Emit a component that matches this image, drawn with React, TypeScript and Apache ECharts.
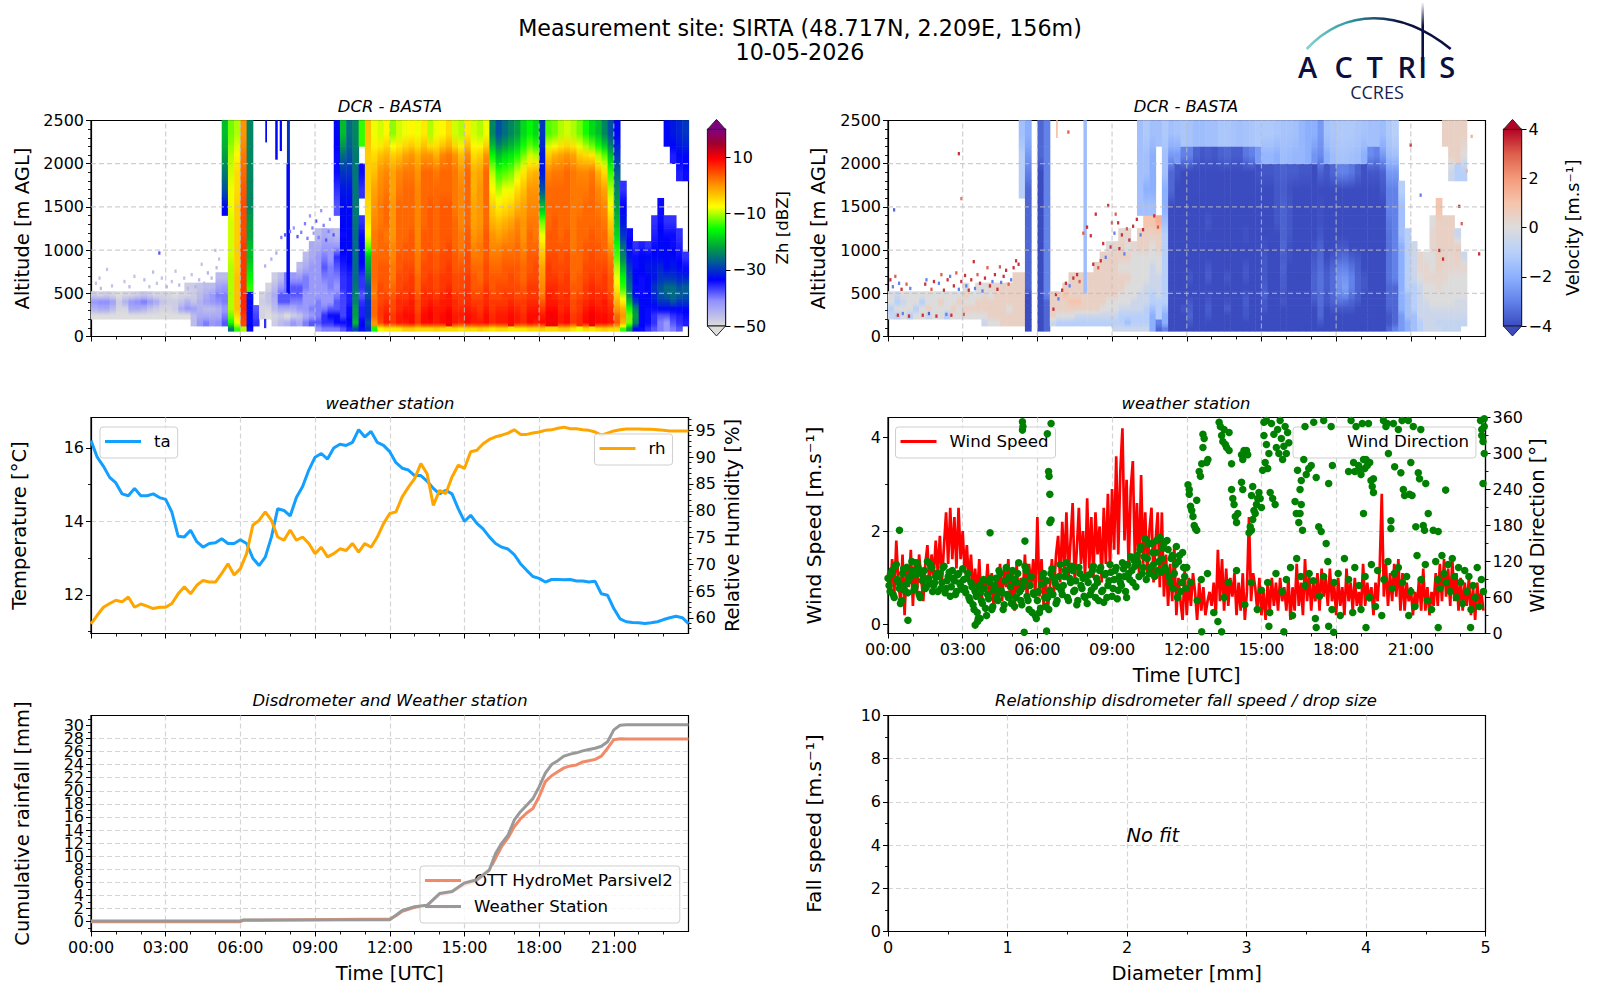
import React, { useEffect, useRef } from "react";
import * as echarts from "echarts";

const _ = null;
const FONT = "DejaVu Sans";
const NAVY = "#0b1040";

// ---- shared axes
const hourTicks = [0, 3, 6, 9, 12, 15, 18, 21];
const altTicks = [0, 500, 1000, 1500, 2000];
const taTicks = [12, 14, 16];
const rhTicks = [60, 65, 70, 75, 80, 85, 90, 95];
const wsTicks = [0, 2, 4];
const rainTicks = [0, 2, 4, 6, 8, 10, 12, 14, 16, 18, 20, 22, 24, 26, 28, 30];
const rainLabelValues = [-1.5, 0, 2, 4, 6, 8, 10, 12, 14, 16, 18, 20, 22, 24, 26, 28, 30, 31.5];
const zhBarTicks = [-50, -30, -10, 10];
const velBarTicks = [-4, -2, 0, 2, 4];

// ---- radar range gates (m) and column width (h)
const altEdges = [60, 120, 200, 280, 360, 440, 520, 620, 740, 860, 980, 1100, 1250, 1400, 1600, 1800, 2000, 2200, 2500];
const colHours = 0.25;

// ---- colour scales [value, colour]
const zhStops: [number, string][] = [[-50, "#dddddd"], [-41, "#9090ff"], [-33.5, "#0000ff"], [-27, "#006090"], [-22, "#00a040"], [-15.5, "#00ff00"], [-7.5, "#ffff00"], [1.5, "#ff8000"], [9.5, "#ff0000"], [15, "#a00030"], [20, "#800080"]];
const velStops: [number, string][] = [[-4, "#3b4cc0"], [-3, "#6282ea"], [-2, "#8db0fe"], [-1, "#b8d0f9"], [0, "#dddcdc"], [1, "#f5c4ac"], [2, "#f49a7b"], [3, "#dd5f4b"], [4, "#b40426"]];

// ---- Zh (dBZ), one list per 15 min, bottom gate first
const zhColumns: (number | null)[][] = [
[_,_,-50,-45,-42,-48],[_,_,-50,-44,-41,-49],[_,_,-50,-44,-41,-48],[_,_,-50,-46,-43,-49],
[_,_,-50,-49,-48,-50],[_,_,-50,-49,-45,-49],[_,_,-50,-44,-42,-49],[_,_,-50,-44,-41,-48],
[_,_,-50,-45,-40,-47],[_,_,-50,-47,-42,-48],[_,_,-50,-48,-44,-49],[_,_,-50,-49,-47,-49],
[_,_,-50,-49,-48,-49],[_,_,-50,-48,-48,-50],[_,_,-50,-44,-47,-49],[_,_,-50,-42,-45,-49,-48],
[_,-46,-46,-43,-47,-48,-48],[_,-42,-44,-45,-45,-46,-47],[_,-40,-44,-46,-43,-44,-46],[_,-42,-44,-46,-42,-42,-46],
[_,-41,-44,-45,-41,-40,-43,-46],
[_,-38,-40,-42,-40,-40,-42,-46,_,_,_,_,_,-33,-28,-25,-22,-20],
[-25,-15,-12,-10,-10,-10,-10,-10,-10,-9,-9,-9,-9,-8,-8,-9,-10,-12],
[-14,-8,-5,-3,-3,-3,-3,-3,-4,-4,-4,-4,-4,-4,-5,-5,-7,-10],
[-10,5,6,7,7,7,6,6,6,6,6,5,5,5,4,3,2,0],
[-34,-33,-33,-33,-33,-32,-14,-16,-18,-20,-20,-22,-22,-24,-24,-24,-24,-24],
[_,-36,-37,-38],
[_,_,-49,-49,-48,-49],
[_,_,-50,-49,-47,-47,-49],[_,-48,-49,-46,-45,-44,-46,-48],[_,-46,-48,-44,-38,-38,-42,-46],
[_,-45,-50,-44,-38,-38,-40,-40],
[_,-42,-48,-44,-40,-38,-38,-42],[_,-44,-47,-42,-40,-38,-38,-42,-46],
[_,-40,-44,-42,-42,-42,-40,-40,-44,-46],[_,-38,-42,-40,-42,-42,-42,-42,-42,-44,-44],
[-42,-38,-40,-40,-40,-42,-42,-42,-42,-42,-44,-46],[-40,-36,-36,-40,-42,-42,-42,-40,-38,-40,-42,-44],
[-40,-36,-34,-38,-42,-42,-40,-40,-40,-42,-42,-45],[-40,-34,-34,-38,-38,-40,-42,-40,-38,-36,-42,-46,_,-38,-36,-34,-34,-33],
[-38,-34,-37,-37,-37,-37,-36,-36,-35,-34,-33,-34,-33,-33,-32,-30,-26,-20],
[-35,-33,-34,-34,-35,-35,-35,-35,-34,-33,-33,-33,-33,-33,-32,-30,-28,-26],
[-28,-20,-22,-22,-24,-24,-25,-26,-26,-26,-26,-26,-25,-25,-25,-25,-25,-24],
[-34,-33,-35,-35,-36,-38,-36,-36,-34,-33,-33,-34,-36,_,-36,-34,_,-14],
[-30,-28,-30,-30,-30,-28,-28,-25,-22,-20,-12,-8,-6,-5,-4,-4,-4,-3],
[-15,0,3,3,3,2,2,3,3,3,2,2,1,0,-1,-3,-5,-8],
[-8,5,6,6,5,5,5,4,4,3,3,3,2,2,1,0,-3,-9],[-6,8,8,7,6,5,4,4,4,3,3,2,3,3,2,1,-2,-7],
[-6,6,6,5,5,4,3,2,2,1,1,0,0,0,-1,-1,-4,-11],[-6,8,8,7,7,6,5,5,4,4,3,3,3,3,2,1,-3,-9],
[-4,8,9,8,7,6,6,5,5,4,4,3,3,3,3,2,-1,-8],[-4,9,9,8,8,7,6,6,5,4,4,4,3,3,3,2,0,-7],
[-5,6,6,5,5,4,3,3,2,2,1,1,1,1,1,0,-2,-8],[-5,9,9,8,7,7,6,5,5,4,4,4,3,3,3,3,0,-6],
[-5,9,10,9,8,7,6,6,5,5,4,4,4,4,3,3,0,-10],[-4,8,8,8,7,6,5,5,4,4,3,3,3,3,3,2,-2,-8],
[-5,9,9,8,8,7,6,6,5,5,4,4,4,4,3,3,1,-7],[-5,10,10,9,8,8,7,6,6,5,5,4,4,4,3,3,2,-5],
[-5,8,8,7,7,6,5,5,4,4,3,3,3,2,2,2,0,-9],[-6,7,8,7,6,6,5,5,4,3,2,2,1,1,1,0,-3,-10],
[-5,9,9,8,7,7,6,6,5,5,4,4,3,3,3,3,1,-6],[-5,8,8,7,6,5,4,4,3,2,1,0,-1,-1,-2,-2,-5,-9],
[-4,8,7,6,6,5,4,3,3,2,2,1,0,0,0,-1,-4,-10],[-5,9,9,8,7,7,6,5,5,4,4,4,3,3,3,3,0,-8],
[-6,7,7,6,6,5,4,4,3,2,1,0,-2,-4,-7,-10,-16,-24],[-5,8,8,7,6,5,5,4,3,2,1,-1,-3,-6,-10,-14,-20,-28],
[-5,8,8,7,6,6,5,4,4,3,2,0,-2,-5,-8,-13,-18,-26],[-6,9,9,8,7,6,5,5,4,3,2,1,-1,-4,-8,-12,-17,-24],
[-6,8,8,7,6,5,5,4,4,3,3,2,1,-2,-5,-9,-15,-22],[-6,7,7,6,6,5,4,3,3,2,1,0,0,-1,-3,-6,-12,-18],
[-5,9,9,8,7,6,6,5,4,4,3,3,2,1,0,-3,-9,-16],[-5,8,9,8,7,6,6,5,5,4,3,2,2,1,0,-2,-10,-18],
[-4,9,8,6,4,2,1,0,-1,-3,-5,-8,-12,-20,-28,-32,-32,-30],[-5,10,10,9,8,8,7,6,6,5,4,4,3,3,3,1,-4,-13],
[-5,10,10,9,8,7,7,6,5,5,4,4,4,3,3,2,-2,-12],[-4,8,8,7,7,6,6,5,5,4,4,3,3,3,3,2,-1,-10],
[-4,9,9,8,7,7,6,6,5,5,4,4,3,3,3,3,0,-9],[-6,6,6,5,5,4,4,3,3,3,2,2,2,2,2,2,-1,-10],
[-8,7,7,6,6,5,4,4,3,3,3,3,3,2,2,1,-4,-12],[-5,9,9,8,7,6,6,5,5,4,4,3,3,3,2,1,-5,-15],
[-6,10,10,9,8,7,7,6,5,5,4,4,3,3,3,2,-6,-18],[-5,9,9,8,7,7,6,5,5,4,4,3,3,2,1,-2,-10,-20],
[-4,9,9,8,8,7,6,6,5,4,3,3,2,1,-1,-5,-13,-24],[-5,8,8,7,6,5,4,4,3,2,0,-2,-4,-7,-10,-14,-20,-28],
[-5,4,3,0,-2,-4,-6,-8,-10,-13,-15,-18,-20,-22,-24,-27,-30,-33],
[-14,-2,0,-2,-6,-10,-14,-16,-20,-24,-26,-30,-32,-33,-36],
[-22,-12,-12,-15,-20,-24,-26,-28,-30,-32,-33,-34],
[-33,-24,-22,-24,-30,-33,-34,-33,-34,-34,-36],
[-34,-33,-33,-33,-33,-34,-34,-34,-33,-33,-35],
[-36,-34,-34,-34,-33,-33,-33,-33,-32,-33,-36],
[-38,-36,-36,-34,-32,-31,-30,-32,-32,-33,-34,-35,-36],
[-40,-40,-38,-33,-30,-28,-28,-30,-31,-33,-33,-33,-34,-34],
[-42,-42,-38,-33,-30,-27,-26,-30,-33,-33,-33,-34,-36,_,_,_,_,-33],
[-40,-38,-36,-33,-28,-26,-26,-30,-32,-33,-34,-34,-36,_,_,_,-35,-32],
[-38,-36,-35,-33,-30,-27,-28,-31,-33,-34,-35,-36,_,_,_,-35,-33,-31],
[_,-35,-34,-33,-30,-28,-27,-31,-34,-36,_,_,_,_,_,-34,-33,-30],
];
// thin echoes: [start h, end h, low m, high m, dBZ]
const zhStreaks = [[7.85,7.97,500,2000,-33],[7.87,7.97,2000,2500,-30],[7,7.05,2250,2500,-33],[7.4,7.48,2050,2500,-33],[7.58,7.65,2150,2500,-33],[6.95,7.02,100,200,-36]];
// isolated gates: [h, m, dBZ]
const zhSpeckles = [[0.15,600,-47],[0.3,660,-47],[0.35,540,-46],[0.6,760,-47],[0.8,570,-47],[1.3,620,-47],[1.5,560,-46],[1.7,680,-47],[2.1,640,-46],[2.3,560,-47],[2.45,730,-46],[2.6,600,-47],[2.8,660,-47],[3,560,-46],[3.2,620,-47],[3.35,740,-47],[3.5,580,-46],[3.7,660,-47],[3.85,540,-46],[4,700,-47],[4.15,560,-45],[4.3,640,-46],[4.4,820,-47],[4.5,600,-46],[4.65,720,-45],[4.8,660,-46],[5,780,-46],[5.1,880,-47],[2.7,950,-38],[4.95,980,-47],
[7.6,1130,-40],[7.75,1160,-38],[7.95,1200,-40],[8.1,1240,-42],[8.25,1140,-38],[8.4,1190,-40],[8.55,1290,-40],[8.75,1380,-42],[8.85,1240,-40],[9,1320,-38],[9.1,1130,-40],[9.2,1440,-42],[9.3,1270,-40],[9.4,1100,-38],[9.5,1200,-40],[8.65,1120,-40],[9.55,1340,-42],[9.7,1160,-38],[7.4,950,-44],[7.2,880,-45],[6.95,800,-45],[8.9,1180,-42]];

// ---- Doppler velocity (m/s), same layout
const velColumns: (number | null)[][] = [
[_,_,-0.5,-1,0,0],[_,_,-1,0,-1,-0.5],[_,_,0,0,-0.5,0],[_,_,-1,0,0,0],
[_,_,0,-1,0,0],[_,_,0,0,-1,0],[_,_,-0.5,0.5,0,0],[_,_,0,0,0,0],
[_,_,0,0,0.5,0],[_,_,-1,0,0,0],[_,_,0,0.5,0,0],[_,_,0,0,0.5,0],
[_,_,0,0.5,0,0.5,0],[_,_,0,0.5,0,0],[_,_,0,0.5,0.5,0,0],[_,-0.5,0,0.5,0.5,0.3,0],
[_,0,0.5,0.5,0.5,0,0.3],[_,0,0.5,0.5,0.5,0.5,0.3],[_,0.5,0.5,0.5,0.5,0.5,0.5],[_,0.5,0.5,0,0.5,0.5,0.5],
[_,0.5,0.5,0.5,0.5,0.5,0.5,0.5],
[_,0.5,0.5,0.5,0.5,0.5,0.5,0.5,_,_,_,_,_,_,-1,-1,-1,-1.5],
[-4,-4,-4,-4,-4,-4,-3.5,-3.5,-3.5,-3.5,-3.5,-3.5,-3.5,-3.5,-3.5,-3,-2.5,-2],
[],
[-4,-4,-4,-4,-4,-4,-4,-4,-4,-4,-4,-4,-4,-4,-4,-4,-3.5,-3.5],
[-3.5,-3.5,-3.5,-3.5,-3.5,-3,-3,-3,-3,-3,-3,-3,-3,-3,-3,-3,-3,-3],
[_,-0.5,0.5,0.5,0.5,0.5],[_,-1,0,0.5,0.5,0.5],[_,-1,0,0.5,0.5,1,0.5],[_,-1,0,0.5,1,0.5,0.5,0.5],[_,-1,-0.5,0.5,1,0.5,0.5,0.5],
[_,-1,-0.5,0.5,0.5,0.5,0.5,0.5],
[_,-1,-0.5,0.5,0.5,0.5,0.5,0.5],[_,-1,-0.5,0.5,0.5,0.5,0.5,0.5,0.5],
[_,-1,-0.5,0,0.5,0.5,0.5,0.5,0.5,0.5],[_,-1,-0.5,0,0,0.5,0.5,0.5,0.5,0.5,0],
[-0.5,-1,-0.5,0,0,0.5,0.5,0.5,0.5,0.5,0.3],[-0.5,-1,-1,-0.5,0,0,0.5,0.5,0,0.5,0.5,0.3],
[-0.5,-1.5,-1,-0.5,0,0,0,0.5,0,0.5,0,0.3],[-0.5,-1,-1,-0.5,-0.5,0,0,0,0,0,0.3],
[-0.5,-1,-1,-0.5,-0.5,-0.5,0,0,0,0,0.5,0.5,_,-1.5,-1.5,-1.5,-1.5,-1.5],
[-0.5,-1,-1,-1,-0.5,-0.5,-0.5,0,0,0,0.5,0.5,1,-1.5,-2,-1.5,-1.5,-1.2],
[-2,-2,-2,-1.5,-1,-1,-0.5,-0.5,-0.5,0,0,0.5,1,-1.5,-2,-2,-2,-1.5],
[-3.5,-3,-1,-1,-1,-0.5,-0.5,-0.5,0,0,0.5,0.5,1.5,_,_,_,_,-1.5],
[-3,-2,-2,-1.5,-1,-1,-1,-1,-1,-1,-1,-1,-1.5,-2,-2,-1.5,-1.5,-1.2],
[-4,-4,-4,-4,-4,-4,-4,-4,-4,-4,-4,-4,-4,-4,-3.5,-3.5,-2.5,-1.5],
[-4,-4,-4,-4,-4,-4,-4,-4,-4,-4,-4,-4,-4,-4,-4,-3.8,-2.5,-1.4],
[-4,-4,-4,-3.8,-4,-4,-4,-4,-4,-4,-4,-4,-4,-4,-4,-4,-3,-1.3],
[-4,-3.8,-3.6,-3.7,-3.8,-4,-4,-3.8,-4,-4,-4,-4,-4,-4,-4,-4,-3,-1.4],
[-4,-4,-4,-4,-4,-4,-4,-4,-4,-4,-4,-4,-4,-4,-4,-4,-3.6,-1.6],
[-4,-4,-4,-4,-4,-4,-4,-4,-4,-4,-4,-4,-4,-4,-4,-4,-3.8,-1.6],
[-4,-4,-3.8,-3.7,-3.8,-3.9,-4,-3.7,-3.8,-4,-4,-4,-3.8,-4,-4,-4,-3.7,-1.5],
[-4,-4,-4,-4,-4,-4,-4,-4,-4,-4,-4,-4,-4,-4,-4,-4,-3.8,-1.5],
[-4,-4,-4,-4,-4,-4,-4,-4,-4,-4,-4,-4,-4,-4,-4,-4,-3.6,-1.3],
[-4,-4,-4,-3.7,-3.9,-4,-4,-3.8,-4,-4,-4,-4,-4,-4,-4,-4,-3.5,-1.3],
[-4,-4,-4,-4,-4,-4,-4,-4,-4,-4,-4,-4,-4,-4,-4,-4,-3.7,-1.4],
[-4,-4,-4,-4,-4,-4,-4,-4,-4,-4,-4,-4,-4,-4,-4,-4,-3.7,-1.5],
[-4,-4,-3.8,-3.8,-3.7,-3.8,-4,-3.8,-3.8,-4,-4,-3.9,-4,-4,-4,-4,-3.2,-1.4],
[-4,-4,-4,-4,-4,-4,-4,-4,-4,-4,-4,-4,-4,-4,-4,-4,-3,-1.3],
[-4,-4,-4,-4,-4,-4,-4,-4,-4,-4,-4,-4,-4,-4,-4,-3.9,-2.5,-1.2],
[-4,-4,-4,-3.8,-3.8,-3.6,-3.7,-3.8,-3.8,-3.8,-3.9,-4,-4,-4,-4,-3.8,-1.8,-1.2],
[-4,-4,-4,-4,-4,-4,-4,-4,-4,-4,-4,-4,-4,-4,-4,-3.8,-1.8,-1.2],
[-4,-4,-4,-4,-4,-4,-4,-4,-4,-4,-4,-4,-3.8,-3.8,-3.8,-3.7,-2,-1.3],
[-4,-4,-4,-4,-3.8,-3.9,-3.7,-3.7,-3.6,-3.7,-3.5,-3.6,-3.6,-3.6,-3.7,-3.6,-1.6,-1.4],
[-4,-4,-4,-4,-4,-4,-4,-4,-4,-3.9,-3.9,-3.8,-3.8,-3.8,-3.9,-3.7,-1.7,-1.4],
[-4,-4,-4,-4,-4,-4,-4,-4,-4,-4,-4,-4,-4,-4,-4,-3.7,-1.8,-1.5],
[-4,-4,-4,-4,-4,-4,-4,-4,-4,-4,-4,-4,-4,-4,-4,-3.8,-1.8,-1.8],
[-4,-4,-4,-4,-4,-4,-4,-4,-4,-4,-4,-4,-4,-4,-4,-3.8,-2,-2],
[-4,-4,-4,-4,-3.8,-3.7,-3.6,-3.6,-3.7,-3.8,-3.9,-4,-4,-4,-4,-4,-2.6,-2],
[-4,-3.8,-3.5,-3.5,-3.4,-3.4,-3.3,-3.3,-3.4,-3.5,-3.6,-3.8,-3.9,-3.9,-4,-3.6,-2.8,-2.5],
[-4,-4,-4,-4,-3.8,-3.8,-3.7,-3.7,-3.8,-4,-4,-4,-4,-4,-4,-3.8,-2,-1.4],
[-4,-4,-4,-3.8,-3.6,-3.5,-3.4,-3.4,-3.5,-3.8,-4,-4,-4,-4,-4,-3.5,-1.6,-1.3],
[-4,-4,-4,-3.8,-3.3,-3,-2.7,-2.7,-3,-3.5,-3.8,-4,-4,-4,-4,-3,-1.4,-1.2],
[-4,-4,-4,-3.8,-3.4,-2.8,-2.4,-2.6,-3,-3.4,-3.8,-4,-4,-4,-4,-3,-1.4,-1.2],
[-4,-4,-4,-3.8,-3.6,-3.3,-3,-3,-3.3,-3.7,-4,-4,-4,-4,-4,-3.2,-1.5,-1.2],
[-4,-4,-4,-4,-3.8,-3.7,-3.6,-3.6,-3.7,-3.8,-4,-4,-4,-4,-4,-3.6,-1.6,-1.3],
[-4,-4,-4,-4,-4,-4,-3.8,-3.8,-4,-4,-4,-4,-4,-4,-4,-3.9,-2,-1.4],
[-4,-4,-4,-4,-4,-4,-4,-4,-4,-4,-4,-4,-4,-4,-4,-3.8,-2.8,-1.5],
[-4,-4,-4,-4,-4,-4,-4,-4,-4,-4,-4,-4,-4,-4,-4,-3.8,-3,-1.5],
[-4,-4,-4,-4,-4,-4,-4,-4,-4,-4,-4,-4,-4,-4,-3.8,-3.6,-2.5,-1.6],
[-3.5,-3.8,-3.8,-3.6,-3.5,-3.5,-3.5,-3.3,-3.3,-3.3,-3.3,-3.3,-3.2,-3,-3,-2.5,-1.6,-1.2],
[-3,-3.5,-3.5,-3.5,-3.5,-3.5,-3.5,-3,-3,-3,-3,-3,-3,-3,-3,-2.5,-1.5,-1],
[-2.5,-2.5,-2.5,-2,-2,-2,-2,-2,-2,-2,-2,-1.5,-1.5,-1.5,-1],
[-2,-2,-1.5,-1.5,-1.5,-1.5,-1,-1,-1,-1,-1,-1],
[-1.5,-1.5,-1.5,-1,-1,-1,-1,-0.5,-0.5,-0.5,-0.5],
[-1,-1,-0.5,-0.5,-0.5,-0.5,-0.5,0,0.3,0.3],
[-0.5,-0.5,-0.5,-0.5,-0.3,0,0,0.3,0.3,0],
[-0.5,-0.5,-0.5,-0.3,0,0,0,0.3,0,0,0.3,0.3,0],
[-0.5,-0.7,-0.5,-0.3,0,0,0.3,0.3,0.5,0.5,0.5,0.5,0.5,1],
[-0.7,-0.7,-0.5,-0.3,0,0,0,0.3,0.3,0.5,0.5,0.5,0.5,_,_,_,_,0.5],
[-0.7,-0.7,-0.5,-0.3,0,0,0,0,0.3,0.3,0.5,0.5,0.5,_,_,-0.5,0.5,0.5],
[-0.7,-0.7,-0.5,-0.3,-0.3,0,0,0,0.3,0.5,0.5,-0.5,_,_,_,-1,0.5,0.5],
[_,-0.7,-0.5,-0.3,-0.3,0,0,0,0.3,-0.5,_,_,_,_,_,-1,0,0.5],
];
const velStreaks = [[7.85,7.97,500,2500,-1.6],[6.75,6.8,2300,2500,1]];
const velSpeckles = [[0.05,640,3.5],[0.15,560,-3],[0.2,1450,-3.5],[0.25,680,3],[0.35,230,3.5],[0.4,600,-3],[0.5,530,3.5],[0.55,250,-3],[0.7,590,3],[0.8,220,3.5],[0.85,540,-3],
[1.35,230,3.5],[1.45,590,3.5],[1.5,640,-3],[1.6,250,-3.5],[1.7,530,3],[1.8,620,3.5],[1.9,220,3.5],[2,600,-3],[2.1,700,3],[2.2,520,3.5],[2.3,240,-3],[2.35,640,3.5],[2.45,680,-3],[2.5,230,3.5],[2.6,570,3.5],[2.7,720,3],[2.8,530,-3],[2.9,620,3.5],[3,240,3],
[3.05,690,3.5],[3.1,570,-3],[3.2,520,3.5],[3.3,640,3.5],[3.4,850,3.5],[3.45,540,-3],[3.55,700,3],[3.65,600,3.5],[3.75,510,-3],[3.85,660,3.5],[3.95,780,3],[4.05,570,3.5],[4.15,620,-3],[4.25,700,3.5],[4.35,530,3.5],[4.45,790,3],[4.5,610,-3],[4.6,680,3.5],[4.7,750,3.5],[4.8,590,3],[4.9,640,-3],[5,780,3.5],[5.1,860,3.5],[5.2,820,3.5],
[6.6,300,3.5],[6.7,470,3.5],[6.8,420,-3],[6.95,520,3.5],[7.1,600,3.5],[7.25,570,-3],[7.4,660,3.5],[7.55,700,3.5],[7.65,620,3],[7.8,1180,3],[7.95,1250,3.5],[8.1,1150,3.5],[8.2,820,3.5],[8.3,1400,3.5],[8.4,780,3],[8.5,860,3.5],[8.6,1060,3.5],[8.7,900,-3],[8.8,1500,3.5],[8.9,1020,3.5],[8.95,1300,3.5],[9.05,1180,-3],[9.1,1400,3],[9.2,1300,3.5],[9.25,1000,3.5],[9.35,1160,3.5],[9.45,940,-3],[9.55,1230,3],[9.65,1100,3.5],[9.8,1260,3.5],[9.95,1340,3.5],[10.1,1160,-3],[10.2,1220,3.5],[10.65,1380,3.5],[10.8,1250,3],
[20.95,2200,3.5],[21.35,1620,-3],[22.1,980,3.5],[22.25,880,3.5],[23,1290,3],[23.7,940,3.5],[23.2,1900,1.5],[23.4,2300,1.5],[22.9,1490,3.5],[2.8,2100,3.5],[2.9,1580,2.5],[7.2,2350,3]];

// ---- weather station, every 15 min
const lineHours = 0.25;
const taValues = [16.2,15.75,15.5,15.2,15.05,14.75,14.7,14.9,14.7,14.7,14.75,14.65,14.6,14.25,13.6,13.58,13.76,13.45,13.3,13.4,13.42,13.53,13.4,13.4,13.5,13.4,13.0,12.8,13.03,13.58,14.35,14.3,14.15,14.65,14.95,15.4,15.75,15.85,15.7,16.0,16.1,16.07,16.15,16.5,16.3,16.45,16.15,16.07,15.9,15.6,15.45,15.4,15.25,15.25,15.1,14.9,14.75,14.85,14.75,14.35,14.0,14.17,13.95,13.8,13.58,13.4,13.3,13.25,13.1,12.85,12.67,12.5,12.45,12.35,12.42,12.42,12.41,12.42,12.38,12.38,12.35,12.37,12.03,11.99,11.63,11.35,11.27,11.25,11.24,11.22,11.24,11.27,11.33,11.38,11.42,11.38,11.22];
const rhValues = [58.9,60.5,62,62.7,63.3,63,63.9,62,62.6,62.2,61.75,62,62,62.7,64.5,65.8,64.5,66.1,67,66.7,66.7,68.3,70.1,68,69.2,72,77.3,78.2,79.8,78.2,75.1,74.5,76.4,74.5,75.1,73.9,72,73.2,71.4,72,72.9,72.6,73.9,72.3,73.9,73.2,75.1,77.6,79.5,79.8,82.6,84.4,86,88.8,86.9,81,83.8,83.2,86.3,88.5,87.9,91,91.3,92.5,93.3,93.8,94.1,94.5,95.1,94.25,94.25,94.5,94.7,95,95.1,95.4,95.6,95.3,95.3,95.1,95,94.7,94.1,94.5,94.9,95.1,95.25,95.25,95.25,95.2,95.2,95.1,95,94.9,94.9,94.9,94.9];

// ---- wind, every 5 min
const windHours = 1 / 12;
const windSpeed = [
1.1,0.7,1.4,0.6,1.8,0.9,0.5,1.5,0.2,1.3,0.8,1.6, 0.4,1.4,0.7,1.5,1.0,0.5,1.3,1.7,0.8,1.5,1.0,1.8,
1.1,1.9,0.9,1.7,2.4,1.3,2.5,1.4,2.3,1.2,2.5,1.4, 2.0,1.1,1.7,0.9,1.5,0.7,1.2,0.6,1.4,0.4,1.0,0.7,
1.3,0.5,1.1,0.3,1.0,0.6,1.3,0.5,1.2,0.8,1.4,0.4, 1.1,0.3,1.3,0.6,1.0,0.7,1.5,0.5,1.3,0.8,1.4,0.6,
2.3,0.6,1.4,0.4,1.0,0.3,0.8,1.4,0.7,1.5,1.9,0.9, 2.2,1.2,2.4,1.0,1.8,2.6,0.9,1.6,2.5,1.3,2.0,1.0,
2.7,1.2,2.3,1.0,2.4,1.5,2.1,0.9,2.5,1.3,2.8,1.2, 2.9,1.6,3.6,1.5,3.3,4.2,1.8,3.1,1.2,2.9,3.5,1.4,
2.6,1.1,3.2,1.3,2.4,1.0,2.0,2.5,0.9,1.8,2.4,0.8, 2.4,0.6,1.5,0.4,1.3,0.5,1.7,0.2,1.0,0.5,0.1,1.2,
0.2,1.0,0.4,1.1,0.7,0.1,0.9,0.3,0.8,0.2,0.5,0.7, 0.4,0.9,0.2,1.6,0.5,1.4,0.3,1.2,0.4,1.0,0.6,1.1,
0.2,0.9,0.3,1.1,0.1,0.7,2.3,0.5,1.1,0.8,0.3,1.0, 0.2,0.7,0.1,0.9,0.3,1.0,0.4,0.9,0.3,1.0,0.5,0.8,
0.3,1.0,0.1,0.8,0.3,1.3,0.4,0.9,0.2,1.4,0.5,1.1, 0.3,0.9,0.5,1.1,0.3,1.2,0.6,1.0,0.4,1.2,0.5,0.9,
0.2,1.0,0.4,0.8,0.2,1.2,0.5,0.9,0.3,1.0,0.4,0.7, 0.3,1.3,0.4,0.9,0.5,0.8,0.2,0.9,0.5,1.2,2.8,0.6,
1.3,0.4,1.1,0.5,1.3,0.6,1.4,0.3,1.1,0.3,0.9,0.5, 0.8,0.2,0.7,0.4,1.0,0.3,1.2,0.3,0.8,0.2,0.7,0.4,
1.1,0.4,1.3,0.5,1.4,0.6,1.2,0.4,1.4,0.5,1.1,0.3, 1.0,0.3,0.9,0.4,1.0,0.2,0.8,0.1,0.9,0.4,0.7,0.3];
const windDir = [
92,70,105,60,115,85,50,100,72,110,88,95, 105,78,118,65,100,90,75,120,85,110,80,95,
70,100,85,112,75,95,62,105,88,70,100,80, 108,75,92,60,85,48,70,35,80,55,90,42,
65,85,40,72,92,55,100,68,48,110,60,78, 105,45,85,118,55,78,112,62,40,95,68,30,
55,35,82,100,45,60,72,108,92,50,78,115, 65,95,118,55,85,105,72,48,110,80,92,60,
50,98,72,112,60,85,105,70,52,100,80,115, 62,90,110,72,85,118,95,60,100,128,85,112,
130,95,145,110,158,125,100,150,115,135,105,160, 125,150,105,140,85,130,100,145,120,70,135,95,
110,_,85,_,_,55,_,90,_,_,100,_, _,35,_,20,_,_,60,_,85,_,_,_,
105,_,_,_,48,_,_,85,_,_,40,_, 72,_,_,85,35,_,_,100,_,_,70,_,
90,_,110,30,_,125,_,95,_,80,_,100, _,88,25,_,62,_,95,_,120,_,40,85,
_,100,30,_,125,_,90,_,35,110,_,80, 40,_,95,_,60,115,_,45,105,_,30,90,
_,120,_,75,100,_,110,_,85,_,95,30, 70,_,45,130,_,90,_,115,55,_,40,_,
120,90,75,130,100,85,115,70,125,95,60,110, 85,50,105,70,95,40,80,60,110,45,90,70];
const windDirMorning = [
80,100,65,112,90,75,55,108,82,68,96,120, 72,98,110,60,88,105,78,92,115,70,85,100,
95,75,110,68,88,102,78,92,65,98,84,74, 90,68,100,55,78,40,62,25,68,50,75,30,
58,92,45,80,60,105,72,40,88,65,95,50, 90,60,100,70,48,88,105,55,80,35,65,25,
70,42,95,60,88,40,100,65,85,55,95,72, 80,105,60,92,112,70,88,55,100,75,62,95,
85,65,105,78,92,55,110,72,98,60,88,102, 75,105,58,95,80,108,70,115,90,105,122,78,
118,140,100,128,90,150,110,135,95,155,120,102, 142,110,155,95,125,75,115,60,130,85,110,75];
const windDirOutliers = [
[0.46,172],[4.1,168],[5.5,154],[0.8,22],[3.5,14],[3.6,20],[3.7,25],[5.47,2],[6.37,4],[5.4,353],[5.4,339],[5.42,345],[6.4,333],[6.55,350],[6.45,270],[6.47,262],[6.5,232],[6.55,189],[6.5,185],
[12.05,248],[12.1,240],[12.1,232],[12.15,212],[12.2,205],[12.25,195],[12.3,180],[12.35,175],[12.4,172],[12.4,222],[12.5,270],[12.55,262],[12.6,283],[12.65,310],[12.65,332],[12.7,325],[12.8,285],[12.85,290],
[13.3,352],[13.35,345],[13.4,330],[13.45,320],[13.5,340],[13.55,315],[13.6,310],[13.7,305],[13.7,335],[13.8,283],[13.8,240],[13.85,225],[13.9,215],[13.95,195],[14,185],[14.05,200],[14.2,298],[14.25,290],[14.3,305],[14.35,300],[14.4,305],[14.45,298],[14.2,252],[14.25,240],
[14.5,168],[14.55,178],[14.6,172],[14.65,190],[14.7,205],[14.75,200],[14.8,215],[14.85,225],[14.9,235],[14.95,225],[15,210],[14.6,230],[14.65,245],
[15.05,272],[15.1,352],[15.1,330],[15.15,285],[15.2,355],[15.2,315],[15.25,275],[15.3,300],[15.35,235],[15.4,350],[15.45,225],[15.5,332],[15.55,215],[15.6,310],[15.65,340],[15.7,300],[15.75,355],[15.8,325],[15.85,290],[15.9,312],[15.95,345],[16,300],[16.05,335],[16.1,318],
[16.35,220],[16.4,200],[16.45,272],[16.5,185],[16.55,240],[16.6,255],[16.65,172],[16.7,290],[16.75,345],[16.8,265],[16.9,275],[17,280],[17.1,352],[17.2,260],[17.3,178],[17.4,170],[17.5,355],[17.6,150],[17.7,250],[17.8,345],[17.85,280],[16.55,200],[16.6,215],
[18.5,270],[18.6,355],[18.7,285],[18.75,270],[18.8,345],[18.9,280],[18.95,275],[19,265],[19.05,350],[19.1,290],[19.15,275],[19.2,290],[19.25,280],[19.3,350],[19.35,285],[19.4,255],[19.45,245],[19.5,258],[19.5,235],[19.1,200],
[19.9,355],[20,345],[20.05,350],[20.1,300],[20.2,188],[20.2,175],[20.3,350],[20.35,278],[20.5,340],[20.6,268],[20.65,355],[20.7,240],[20.75,230],[20.9,355],[20.95,232],[21,285],[21.05,230],[21.1,345],[21.2,178],[21.3,268],[21.35,258],[21.4,340],[21.5,180],[21.55,172],[21.6,250],[21.7,200],[21.9,172],[22.1,170],[22.4,239],
[23.8,355],[23.85,340],[23.9,320],[23.95,300],[23.95,345],[23.9,250],[23.85,330],[23.95,358],
[12.6,3],[13.4,3],[15.3,12],[15.9,3],[17.2,10],[17.7,12],[17.9,2],[19.2,10],[22.1,10],[23.4,10]];

// ---- cumulative rain
const rainHours = [0,6,6.1,12,12.25,12.5,13,13.5,14,14.5,15,15.5,16,16.25,16.5,16.75,17,17.25,17.5,17.75,18,18.25,18.5,18.75,19,19.25,19.5,19.75,20,20.25,20.5,20.75,21,21.25,21.5,24];
const parsivelRain = [0,0,0.2,0.4,0.9,1.6,2.2,2.5,4.1,4.5,5.6,6.2,7.8,9.7,11.5,12.8,14.5,15.7,16.6,17.3,19.1,21.4,22.3,22.9,23.5,23.8,23.95,24.4,24.6,24.8,25.3,26.5,27.8,27.95,27.9,27.9];
const stationRain = [0.1,0.1,0.25,0.3,1.0,1.7,2.3,2.5,4.3,4.6,5.9,6.4,7.9,10.4,12,13.2,15.5,16.8,17.8,18.8,20.6,22.7,24,24.6,25.3,25.6,25.8,26.1,26.3,26.5,26.8,27.5,29.3,30,30.1,30.1];

function hexToRgb(h: string) {
  return [parseInt(h.slice(1, 3), 16), parseInt(h.slice(3, 5), 16), parseInt(h.slice(5, 7), 16)];
}
function colorOf(stops: [number, string][], v: number) {
  if (v <= stops[0][0]) return stops[0][1];
  for (let i = 1; i < stops.length; i++) {
    if (v <= stops[i][0]) {
      const f = (v - stops[i - 1][0]) / (stops[i][0] - stops[i - 1][0]);
      const a = hexToRgb(stops[i - 1][1]);
      const b = hexToRgb(stops[i][1]);
      return `rgb(${a.map((c, k) => Math.round(c + (b[k] - c) * f)).join(",")})`;
    }
  }
  return stops[stops.length - 1][1];
}

function heatSeries(name: string, cols: (number | null)[][], streaks: number[][], specks: number[][], stops: [number, string][], axis: number, blend: number) {
  const data: number[][] = [];
  cols.forEach((col, c) => {
    col.forEach((v, r) => {
      if (v === null) return;
      const up = col[r + 1];
      const down = col[r - 1];
      const top = up == null || Math.abs(up - v) > blend ? v : (up + v) / 2;
      const bot = down == null || Math.abs(down - v) > blend ? v : (down + v) / 2;
      data.push([c * colHours, (c + 1) * colHours, altEdges[r], altEdges[r + 1], v, top, bot]);
    });
  });
  streaks.forEach(([t0, t1, a0, a1, v]) => data.push([t0, t1, a0, a1, v, v, v]));
  specks.forEach(([t, a, v]) => data.push([t, t + 0.07, a, a + 32, v, v, v]));
  return {
    type: "custom", name, xAxisIndex: axis, yAxisIndex: axis, data, z: 2, silent: true,
    encode: { x: [0, 1], y: [2, 3] },
    renderItem: (_p: any, api: any) => {
      const a = api.coord([api.value(0), api.value(3)]);
      const b = api.coord([api.value(1), api.value(2)]);
      const v = api.value(4), t = api.value(5), d = api.value(6);
      const fill = t === v && d === v ? colorOf(stops, v) : new echarts.graphic.LinearGradient(0, 0, 0, 1, [
        { offset: 0, color: colorOf(stops, t) }, { offset: 0.5, color: colorOf(stops, v) }, { offset: 1, color: colorOf(stops, d) },
      ]);
      return { type: "rect", shape: { x: a[0], y: a[1] - 0.3, width: b[0] - a[0] + 0.5, height: b[1] - a[1] + 0.6 }, style: { fill } };
    },
  };
}

const gridDash = "rgba(190,190,190,0.75)";
function overlayGrid(axis: number) {
  const data: number[][] = [];
  hourTicks.slice(1).forEach((h) => data.push([h, 0, h, 2500]));
  altTicks.slice(1).forEach((a) => data.push([0, a, 24, a]));
  return {
    type: "custom", xAxisIndex: axis, yAxisIndex: axis, data, z: 3, silent: true,
    encode: { x: [0, 2], y: [1, 3] },
    renderItem: (_p: any, api: any) => {
      const a = api.coord([api.value(0), api.value(1)]);
      const b = api.coord([api.value(2), api.value(3)]);
      return { type: "line", shape: { x1: a[0], y1: a[1], x2: b[0], y2: b[1] }, style: { stroke: gridDash, lineWidth: 1.2, lineDash: [5, 3] } };
    },
  };
}
function colorbarSeries(stops: [number, string][], axis: number) {
  const lo = stops[0][0], hi = stops[stops.length - 1][0];
  const tip = (hi - lo) * (10 / 197);
  return {
    type: "custom", xAxisIndex: axis, yAxisIndex: axis, data: [[0, lo, 1, hi]], z: 2, silent: true, clip: false,
    encode: { x: [0, 2], y: [1, 3] },
    renderItem: (_p: any, api: any) => {
      const a = api.coord([0, hi]);
      const b = api.coord([1, lo]);
      const mid = (a[0] + b[0]) / 2;
      const stroke = "#222";
      return {
        type: "group",
        children: [
          { type: "rect", shape: { x: a[0], y: a[1], width: b[0] - a[0], height: b[1] - a[1] }, style: { stroke, lineWidth: 1, fill: new echarts.graphic.LinearGradient(0, 0, 0, 1, stops.slice().reverse().map(([v, color]) => ({ offset: (hi - v) / (hi - lo), color }))) } },
          { type: "polygon", shape: { points: [[a[0], a[1]], [b[0], a[1]], api.coord([0.5, hi + tip]).map((p: number, i: number) => (i ? p : mid))] }, style: { fill: stops[stops.length - 1][1], stroke, lineWidth: 1 } },
          { type: "polygon", shape: { points: [[a[0], b[1]], [b[0], b[1]], api.coord([0.5, lo - tip]).map((p: number, i: number) => (i ? p : mid))] }, style: { fill: stops[0][1], stroke, lineWidth: 1 } },
        ],
      };
    },
  };
}

const tickFont = { fontFamily: FONT, fontSize: 16, color: "#000" };
const nameFont = { fontFamily: FONT, fontSize: 19.5, color: "#000" };
const dashed = { show: true, showMinLine: false, showMaxLine: false, lineStyle: { color: "#d4d4d4", type: [5, 3] as any, width: 1.2 } };
const minor = (n: number) => ({ show: true, splitNumber: n, length: 3, lineStyle: { color: "#000", width: 0.9 } });
const numFmt = (v: number) => String(v).replace("-", "\u2212");

function timeAxis(gridIndex: number, labels: boolean, split: boolean) {
  return {
    type: "value", gridIndex, min: 0, max: 24, interval: 3,
    axisLine: { show: true, onZero: false, lineStyle: { color: "#000", width: 1.2 } },
    axisTick: { show: true, length: 5, lineStyle: { color: "#000" }, customValues: hourTicks },
    minorTick: minor(3),
    axisLabel: { show: labels, ...tickFont, margin: 8, showMinLabel: true, customValues: hourTicks, formatter: (v: number) => `${String(v).padStart(2, "0")}:00` },
    splitLine: { ...dashed, show: split },
    name: labels ? "Time [UTC]" : "", nameLocation: "middle", nameGap: 32, nameTextStyle: nameFont,
  };
}
function yAxis(gridIndex: number, name: string, nameGap: number, cfg: any, minorN: number, split = true, position = "left") {
  const { ticks, labelExtra, ...rest } = cfg;
  return {
    type: "value", gridIndex, position, name, nameLocation: "middle", nameGap, nameRotate: 90, nameTextStyle: nameFont,
    axisLine: { show: true, onZero: false, lineStyle: { color: "#000", width: 1.2 } },
    axisTick: { show: true, length: 5, lineStyle: { color: "#000" }, ...(ticks ? { customValues: ticks } : {}) },
    minorTick: minor(minorN),
    axisLabel: { ...tickFont, margin: 7, showMinLabel: true, showMaxLabel: true, hideOverlap: false, formatter: numFmt, ...(ticks ? { customValues: ticks } : {}), ...(labelExtra || {}) },
    splitLine: { ...dashed, show: split },
    ...rest,
  };
}
function subtitle(text: string, x: number, y: number) {
  return { text, left: x, top: y - 9, textAlign: "center", textStyle: { fontFamily: FONT, fontSize: 16.4, fontStyle: "italic", fontWeight: "normal", color: "#000", lineHeight: 18 }, padding: 0 };
}
function legendBox(name: any, left: number, top: number, opts: any = {}) {
  return {
    data: Array.isArray(name) ? name : [name], left, top, orient: "vertical", selectedMode: false, icon: "rect", itemWidth: 36, itemHeight: 3, itemGap: 9,
    padding: [6, 7, 8, 5], borderColor: "#cfcfcf", borderWidth: 1, borderRadius: 3, backgroundColor: "rgba(255,255,255,0.8)",
    textStyle: { fontFamily: FONT, fontSize: 16.6, color: "#000", padding: [0, 0, 0, 8] }, ...opts,
  };
}
const bg = (x: number, y: number, h = 216, w = 597.5) => ({ left: x, top: y, width: w, height: h, show: true, borderColor: "#000", borderWidth: 1.2 });
const line = (name: string, xs: number[] | null, ys: number[], step: number, axis: number, y: number, color: string, width: number, z = 3) => ({
  type: "line", name, xAxisIndex: axis, yAxisIndex: y, showSymbol: false, symbol: "none", silent: true, z,
  data: ys.map((v, i) => [xs ? xs[i] : i * step, v]), lineStyle: { color, width }, itemStyle: { color },
});

const letters = [["A", 1307.5], ["C", 1343.7], ["T", 1374.7], ["R", 1406.7], ["I", 1422.7], ["S", 1447.3]] as [string, number][];

export default function App() {
  const ref = useRef<HTMLDivElement>(null);
  useEffect(() => {
    document.body.style.margin = "0";
    const chart = echarts.init(ref.current!, undefined, { renderer: "svg" });
    chart.setOption({
      animation: false,
      backgroundColor: "#fff",
      title: [
        { text: "Measurement site: SIRTA (48.717N, 2.209E, 156m)\n10-05-2026", left: 800, top: 16, textAlign: "center", padding: 0, textStyle: { fontFamily: FONT, fontSize: 22.2, fontWeight: "normal", color: "#000", lineHeight: 24 } },
        subtitle("DCR - BASTA", 390, 106), subtitle("DCR - BASTA", 1186, 106),
        subtitle("weather station", 390, 403), subtitle("weather station", 1186, 403),
        subtitle("Disdrometer and Weather station", 390, 700), subtitle("Relationship disdrometer fall speed / drop size", 1186, 700),
      ],
      grid: [
        bg(91, 120.5), bg(707.5, 129.4, 196.6, 18), bg(888, 120.5), bg(1503.5, 129.4, 196.6, 18),
        bg(91, 417.5), bg(888, 417.5), bg(91, 715.5), bg(888, 715.5),
      ],
      xAxis: [
        timeAxis(0, false, false),
        { type: "value", gridIndex: 1, min: 0, max: 1, show: false },
        timeAxis(2, false, false),
        { type: "value", gridIndex: 3, min: 0, max: 1, show: false },
        timeAxis(4, false, true),
        timeAxis(5, true, true),
        timeAxis(6, true, true),
        {
          type: "value", gridIndex: 7, min: 0, max: 5, interval: 1, name: "Diameter [mm]", nameLocation: "middle", nameGap: 32, nameTextStyle: nameFont,
          axisLine: { show: true, onZero: false, lineStyle: { color: "#000", width: 1.2 } }, axisTick: { show: true, length: 5, lineStyle: { color: "#000" } },
          minorTick: minor(2), axisLabel: { ...tickFont, margin: 8, showMinLabel: true, showMaxLabel: true }, splitLine: dashed,
        },
      ],
      yAxis: [
        yAxis(0, "Altitude [m AGL]", 59, { min: 0, max: 2500, interval: 500, splitLine: { show: false } }, 5),
        { ...yAxis(1, "Zh [dBZ]", 48, { min: -50, max: 20, ticks: zhBarTicks, splitNumber: 7, nameTextStyle: { ...nameFont, fontSize: 16.6 } }, 1, false, "right"), minorTick: { show: false } },
        yAxis(2, "Altitude [m AGL]", 60, { min: 0, max: 2500, interval: 500, splitLine: { show: false } }, 5),
        { ...yAxis(3, "Velocity [m.s⁻¹]", 42, { min: -4, max: 4, ticks: velBarTicks, splitNumber: 4, nameTextStyle: { ...nameFont, fontSize: 17.6 } }, 1, false, "right"), minorTick: { show: false } },
        yAxis(4, "Temperature [°C]", 62, { min: 10.95, max: 16.83, splitNumber: 3, ticks: taTicks }, 2),
        yAxis(4, "Relative Humidity [%]", 34, { min: 57.1, max: 97.4, splitNumber: 8, ticks: rhTicks }, 5, false, "right"),
        yAxis(5, "Wind Speed [m.s⁻¹]", 64, { min: -0.19, max: 4.43, splitNumber: 2, ticks: wsTicks, nameTextStyle: { ...nameFont, fontSize: 20.2 } }, 2),
        yAxis(5, "Wind Direction [°]", 42, { min: 0, max: 360, interval: 60 }, 2, false, "right"),
        yAxis(6, "Cumulative rainfall [mm]", 59, { min: -1.5, max: 31.5, splitNumber: 16, ticks: rainTicks, labelExtra: { customValues: rainLabelValues, showMinLabel: false, showMaxLabel: false } }, 2),
        yAxis(7, "Fall speed [m.s⁻¹]", 64, { min: 0, max: 10, interval: 2, nameTextStyle: { ...nameFont, fontSize: 20.2 } }, 2),
      ],
      legend: [
        legendBox("ta", 100, 427),
        legendBox("rh", 594.5, 434),
        legendBox("Wind Speed", 895.5, 427),
        legendBox("Wind Direction", 1293, 427, { data: [{ name: "Wind Direction", itemStyle: { opacity: 0 } }] }),
        legendBox(["OTT HydroMet Parsivel2", "Weather Station"], 420, 866),
      ],
      series: [
        heatSeries("Zh", zhColumns, zhStreaks, zhSpeckles, zhStops, 0, 14),
        overlayGrid(0),
        colorbarSeries(zhStops, 1),
        heatSeries("Velocity", velColumns, velStreaks, velSpeckles, velStops, 2, 1.2),
        overlayGrid(2),
        colorbarSeries(velStops, 3),
        line("ta", null, taValues, lineHours, 4, 4, "#129fff", 3),
        line("rh", null, rhValues, lineHours, 4, 5, "#ffa500", 3),
        line("Wind Speed", null, windSpeed, windHours, 5, 6, "#ff0000", 2.7),
        {
          type: "scatter", name: "Wind Direction", xAxisIndex: 5, yAxisIndex: 7, symbolSize: 7.5, z: 4, silent: true, itemStyle: { color: "#008000", opacity: 1 },
          data: [
            ...windDir.map((d, i) => [i * windHours, d]).filter((p) => p[1] !== null),
            ...windDirMorning.map((d, i) => [(i + 0.5) * windHours, d]),
            ...windDirOutliers,
          ],
        },
        line("OTT HydroMet Parsivel2", rainHours, parsivelRain, 0, 6, 8, "#f08a68", 3),
        line("Weather Station", rainHours, stationRain, 0, 6, 8, "#999999", 3, 4),
        {
          type: "scatter", xAxisIndex: 7, yAxisIndex: 9, symbolSize: 1, silent: true, itemStyle: { color: "transparent", opacity: 1 }, data: [[2, 4]],
          label: { show: true, formatter: "No fit", position: [0, 0], align: "left", verticalAlign: "bottom", fontFamily: FONT, fontSize: 19.4, fontStyle: "italic", color: "#000" },
        },
      ],
      graphic: [
        {
          type: "bezierCurve", z: 10, silent: true,
          shape: { x1: 1306.7, y1: 49, cpx1: 1345, cpy1: 8, cpx2: 1400, cpy2: 8, x2: 1450.7, y2: 49 },
          style: { fill: "none", lineWidth: 2.6, stroke: new echarts.graphic.LinearGradient(0, 0, 1, 0, [{ offset: 0, color: "#86d2cb" }, { offset: 0.3, color: "#2f97a4" }, { offset: 0.65, color: NAVY }, { offset: 1, color: NAVY }]) },
        },
        {
          type: "rect", z: 10, silent: true, shape: { x: 1421.4, y: 2, width: 2.6, height: 60 },
          style: { fill: new echarts.graphic.LinearGradient(0, 0, 0, 1, [{ offset: 0, color: "#ffffff" }, { offset: 0.4, color: NAVY }, { offset: 1, color: NAVY }]) },
        },
        ...letters.map(([t, x]) => ({ type: "text", z: 10, silent: true, x, y: 66.5, style: { text: t, fontFamily: "Open Sans", fontSize: 29, fontWeight: 600, fill: NAVY, textAlign: "center", textVerticalAlign: "middle" } })),
        { type: "text", z: 10, silent: true, x: 1377, y: 91.5, style: { text: "CCRES", fontFamily: "Open Sans", fontSize: 18, fill: "#1a1f4d", textAlign: "center", textVerticalAlign: "middle" } },
      ],
    });
    return () => chart.dispose();
  }, []);
  return <div ref={ref} style={{ width: 1600, height: 1000, position: "absolute", left: 0, top: 0 }} />;
}
